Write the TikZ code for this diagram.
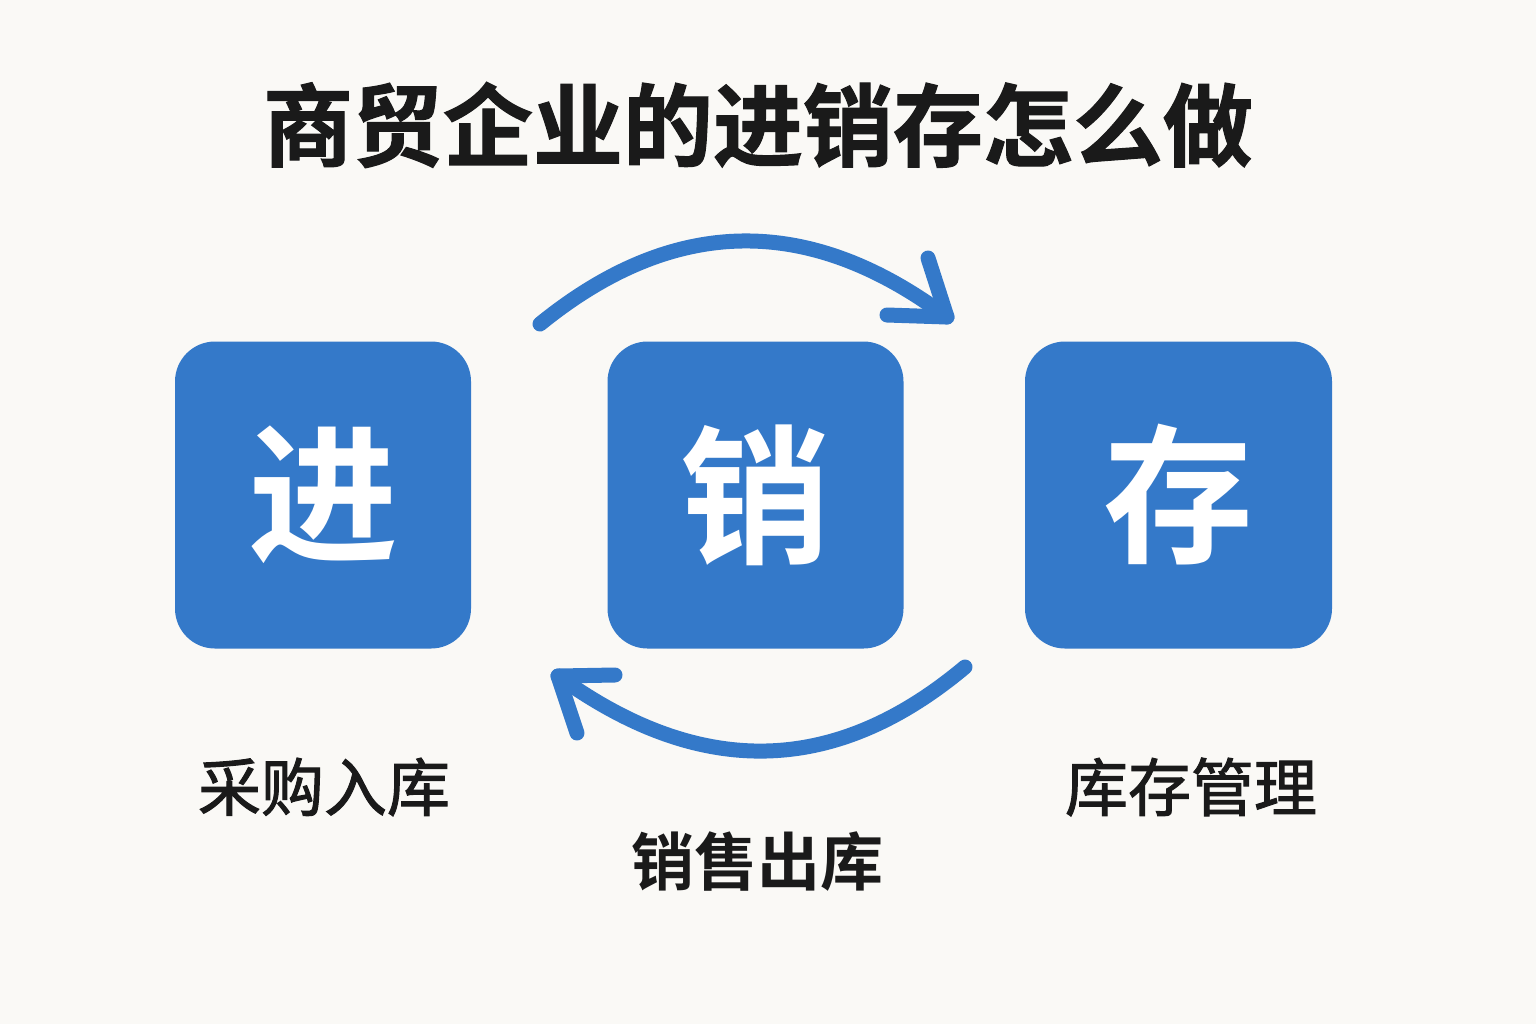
\documentclass[tikz,border=0pt]{standalone}
\usepackage{fontspec}
\newfontfamily\cjk{Noto Sans CJK SC}
\newfontfamily\cjkm[FakeBold=1.6]{Noto Sans CJK SC}
\newfontfamily\cjkb{Noto Sans CJK SC Bold}
\newfontfamily\cjkbb[FakeBold=1.2]{Noto Sans CJK SC Bold}
\definecolor{bg}{HTML}{FAF9F6}
\definecolor{boxblue}{HTML}{3479C9}
\definecolor{ink}{HTML}{1A1A1A}
\begin{document}
\begin{tikzpicture}[x=0.5pt,y=-0.5pt,
  bluebox/.style={fill=boxblue, rounded corners=20pt, minimum width=148pt, minimum height=153.5pt, inner sep=0pt, text=white, font=\cjkb\fontsize{75pt}{75pt}\selectfont},
  label/.style={text=ink, inner sep=0pt, font=\cjkm\fontsize{31.5pt}{31.5pt}\selectfont},
  flow/.style={draw=boxblue, line width=7.5pt, line cap=round, line join=round}]
\useasboundingbox[fill=bg] (0,0) rectangle (1536,1024);
\node[text=ink, inner sep=0pt, font=\cjkbb\fontsize{45pt}{45pt}\selectfont] (title) at (758,125) {商贸企业的进销存怎么做};
\node[bluebox] (jin) at (323,495) {进};
\node[bluebox] (xiao) at (755.5,495) {销};
\node[bluebox, minimum width=153.5pt] (cun) at (1178.5,495) {存};
\node[label] (l1) at (324,787) {采购入库};
\node[label, font=\cjkb\fontsize{31.5pt}{31.5pt}\selectfont] (l2) at (757,862) {销售出库};
\node[label] (l3) at (1191,787) {库存管理};
% top arc
\coordinate (ta) at (540,324);
\coordinate (tb) at (947,317);
\coordinate (ta1) at (928,258);
\coordinate (ta2) at (887,315);
\draw[flow] (ta) .. controls (673,216) and (808,213) .. (tb);
\draw[flow] (ta1) -- (tb) -- (ta2);
% bottom arc
\coordinate (ba) at (965,667);
\coordinate (bb) at (558,676);
\coordinate (bb1) at (615,675);
\coordinate (bb2) at (577,733);
\draw[flow] (ba) .. controls (835,776) and (700,779) .. (bb);
\draw[flow] (bb1) -- (bb) -- (bb2);
\end{tikzpicture}
\end{document}
